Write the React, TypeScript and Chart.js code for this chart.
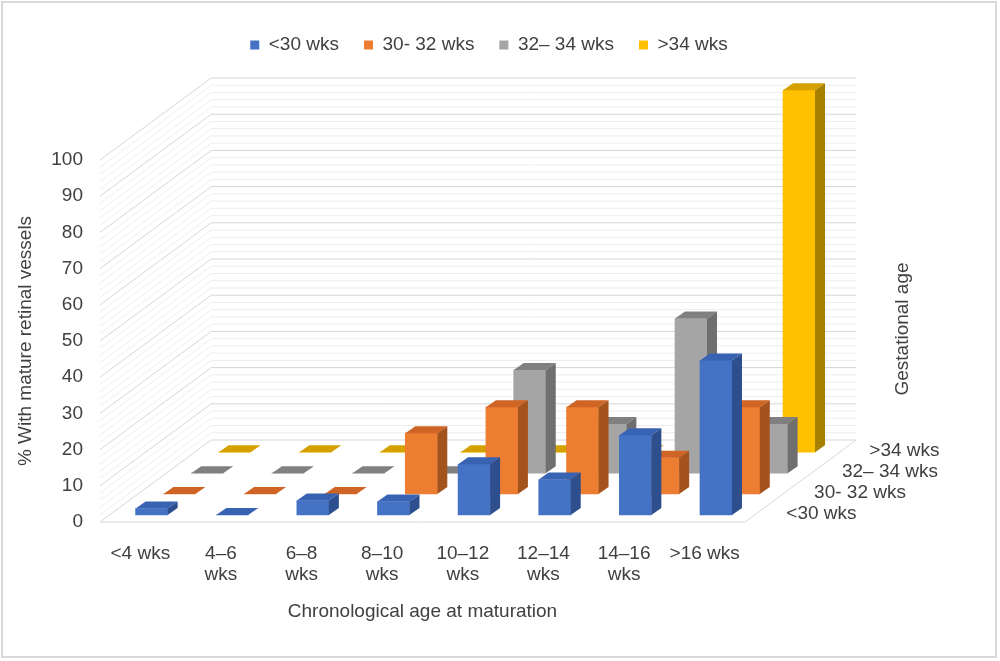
import { useEffect, useRef } from "react";
import { Chart, registerables } from "chart.js";
Chart.register(...registerables);

// chronological age at maturation (x categories)
const CATEGORIES: (string | string[])[] = [
  "<4 wks",
  ["4–6", "wks"],
  ["6–8", "wks"],
  ["8–10", "wks"],
  ["10–12", "wks"],
  ["12–14", "wks"],
  ["14–16", "wks"],
  ">16 wks",
];

// gestational age groups (series, front to back)
const SERIES = ["<30 wks", "30- 32 wks", "32– 34 wks", ">34 wks"];

// % with mature retinal vessels
const LT30 = [1.8, 0, 4, 3.7, 14, 9.8, 22, 42.7];
const W30_32 = [0, 0, 0, 16.8, 24, 24, 10, 24];
const W32_34 = [0, 0, 0, 0, 28.5, 13.6, 42.7, 13.6];
const GT34 = [0, 0, 0, 0, 0, 0, 0, 100];
const VALUES = [LT30, W30_32, W32_34, GT34];

const Y_MAX = 100;
const Y_STEP = 10;
const MINOR_STEP = 2;

const X_TITLE = "Chronological age at maturation";
const Y_TITLE = "% With mature retinal vessels";
const Z_TITLE = "Gestational age";

// colours per series: front, top, side
const FRONT = ["#4472C4", "#ED7D31", "#A5A5A5", "#FFC000"];
const TOP = ["#3862B2", "#CF6424", "#808080", "#D4A100"];
const SIDE = ["#2D4F8E", "#A5531C", "#6F6F6F", "#A68000"];

// fake depth: how far each row is pushed back (in scale units)
const ROW_SHIFT_X = [0.14, 0.485, 0.83, 1.17];
const ROW_SHIFT_Y = [1.93, 7.73, 13.5, 19.3];
const WALL_SHIFT_X = 1.38;
const WALL_SHIFT_Y = 22.65;
const BAR_DEPTH_X = 10;
const BAR_DEPTH_Y = 7;

const TEXT = "#404040";
const FONT = { family: '"Liberation Sans", Arial, sans-serif', size: 19 };

const walls = {
  id: "walls",
  beforeDatasetsDraw(chart: any) {
    const { ctx, chartArea, scales } = chart;
    const y = scales.y, yw = scales.yWall, xw = scales.xWall;
    const wl = xw.getPixelForValue(-0.5);
    const wr = xw.getPixelForValue(CATEGORIES.length - 0.5);
    ctx.save();
    ctx.lineWidth = 1;
    for (let v = 0; v <= Y_MAX; v += MINOR_STEP) {
      ctx.strokeStyle = v % Y_STEP === 0 ? "#d6d6d6" : "#ededed";
      ctx.beginPath();
      ctx.moveTo(chartArea.left, y.getPixelForValue(v));
      ctx.lineTo(wl, yw.getPixelForValue(v));
      ctx.lineTo(wr, yw.getPixelForValue(v));
      ctx.stroke();
    }
    // floor edges
    ctx.strokeStyle = "#d9d9d9";
    ctx.beginPath();
    ctx.moveTo(chartArea.left, y.getPixelForValue(0));
    ctx.lineTo(chartArea.right, y.getPixelForValue(0));
    ctx.lineTo(wr, yw.getPixelForValue(0));
    ctx.stroke();
    ctx.restore();
  },
};

const bars3d = {
  id: "bars3d",
  afterDatasetDraw(chart: any, args: any) {
    const { ctx } = chart;
    const k = args.index;
    ctx.save();
    args.meta.data.forEach((bar: any) => {
      const { x, y, base, width } = bar.getProps(["x", "y", "base", "width"], true);
      const l = x - width / 2, r = x + width / 2;
      const top = Math.min(y, base), bot = Math.max(y, base);
      ctx.fillStyle = TOP[k];
      ctx.beginPath();
      ctx.moveTo(l, top);
      ctx.lineTo(l + BAR_DEPTH_X, top - BAR_DEPTH_Y);
      ctx.lineTo(r + BAR_DEPTH_X, top - BAR_DEPTH_Y);
      ctx.lineTo(r, top);
      ctx.closePath();
      ctx.fill();
      if (bot - top > 0.5) {
        ctx.fillStyle = SIDE[k];
        ctx.beginPath();
        ctx.moveTo(r, top);
        ctx.lineTo(r + BAR_DEPTH_X, top - BAR_DEPTH_Y);
        ctx.lineTo(r + BAR_DEPTH_X, bot - BAR_DEPTH_Y);
        ctx.lineTo(r, bot);
        ctx.closePath();
        ctx.fill();
      }
    });
    ctx.restore();
  },
};

const depthAxis = {
  id: "depthAxis",
  afterDraw(chart: any) {
    const { ctx, chartArea } = chart;
    ctx.save();
    ctx.font = `${FONT.size}px ${FONT.family}`;
    ctx.fillStyle = TEXT;
    ctx.textBaseline = "middle";
    ctx.textAlign = "left";
    SERIES.forEach((label, k) => {
      const meta = chart.getDatasetMeta(k);
      const x = meta.xScale.getPixelForValue(CATEGORIES.length - 0.5) + 30;
      const yy = meta.yScale.getPixelForValue(0) - 1.5;
      ctx.fillText(label, x, yy);
    });
    ctx.translate(chartArea.right + 158, (chartArea.top + chartArea.bottom) / 2 - 12);
    ctx.rotate(-Math.PI / 2);
    ctx.textAlign = "center";
    ctx.fillText(Z_TITLE, 0, 0);
    ctx.restore();
  },
};

export default function App() {
  const ref = useRef<HTMLCanvasElement>(null);

  useEffect(() => {
    if (!ref.current) return;

    const hidden = { display: false, drawTicks: false, offset: false };
    const scales: any = {
      x: {
        type: "category",
        position: "bottom",
        grid: { display: false, drawTicks: false },
        border: { display: false },
        ticks: { font: { ...FONT, lineHeight: 1.1 }, color: TEXT, padding: 21.5, maxRotation: 0, autoSkip: false },
        title: { display: true, text: X_TITLE, font: FONT, color: TEXT, padding: { top: -6.2, bottom: 0 } },
      },
      xTop: {
        type: "linear",
        position: "top",
        offset: false,
        grid: hidden,
        border: { display: false },
        ticks: { display: false },
        afterFit: (s: any) => { s.height = 95.5; },
      },
      y: {
        type: "linear",
        position: "left",
        min: 0,
        max: Y_MAX,
        grid: hidden,
        border: { display: false },
        ticks: { stepSize: Y_STEP, padding: 17, font: FONT, color: TEXT },
        title: { display: true, text: Y_TITLE, font: FONT, color: TEXT, padding: { top: 14, bottom: 0 } },
        afterFit: (s: any) => { s.width = 100; },
      },
      yRight: {
        type: "linear",
        position: "right",
        grid: hidden,
        border: { display: false },
        ticks: { display: false },
        afterFit: (s: any) => { s.width = 233; },
      },
      xWall: {
        type: "linear", display: false, offset: false, grid: hidden,
        min: -0.5 - WALL_SHIFT_X, max: CATEGORIES.length - 0.5 - WALL_SHIFT_X,
      },
      yWall: { type: "linear", display: false, min: -WALL_SHIFT_Y, max: Y_MAX - WALL_SHIFT_Y },
    };
    SERIES.forEach((_, k) => {
      scales["x" + k] = {
        type: "linear", display: false, offset: false, grid: hidden,
        min: -0.5 - ROW_SHIFT_X[k], max: CATEGORIES.length - 0.5 - ROW_SHIFT_X[k],
      };
      scales["y" + k] = { type: "linear", display: false, min: -ROW_SHIFT_Y[k], max: Y_MAX - ROW_SHIFT_Y[k] };
    });

    const chart = new Chart(ref.current, {
      type: "bar",
      data: {
        labels: CATEGORIES as any,
        datasets: SERIES.map((label, k) => ({
          label,
          data: VALUES[k].map((v, i) => ({ x: i, y: v })),
          xAxisID: "x" + k,
          yAxisID: "y" + k,
          backgroundColor: FRONT[k],
          borderWidth: 0,
          barThickness: 32,
          grouped: false,
          clip: false as any,
        })) as any,
      },
      options: {
        responsive: true,
        maintainAspectRatio: false,
        animation: false,
        events: [],
        layout: { padding: { top: 10.5, right: 22, bottom: 37.6, left: 0 } },
        plugins: {
          legend: {
            position: "top",
            labels: { boxWidth: 9, boxHeight: 9, padding: 25, font: FONT, color: TEXT },
          },
          tooltip: { enabled: false },
        },
        scales,
      },
      plugins: [walls, bars3d, depthAxis],
    });

    return () => chart.destroy();
  }, []);

  return (
    <div style={{ position: "relative", width: 1000, height: 661, background: "#fff" }}>
      <style>{"body{margin:0}"}</style>
      <canvas ref={ref} />
      <div
        style={{
          position: "absolute",
          left: 1,
          top: 1,
          width: 996,
          height: 657,
          boxSizing: "border-box",
          border: "2px solid #d9d9d9",
          pointerEvents: "none",
        }}
      />
    </div>
  );
}
